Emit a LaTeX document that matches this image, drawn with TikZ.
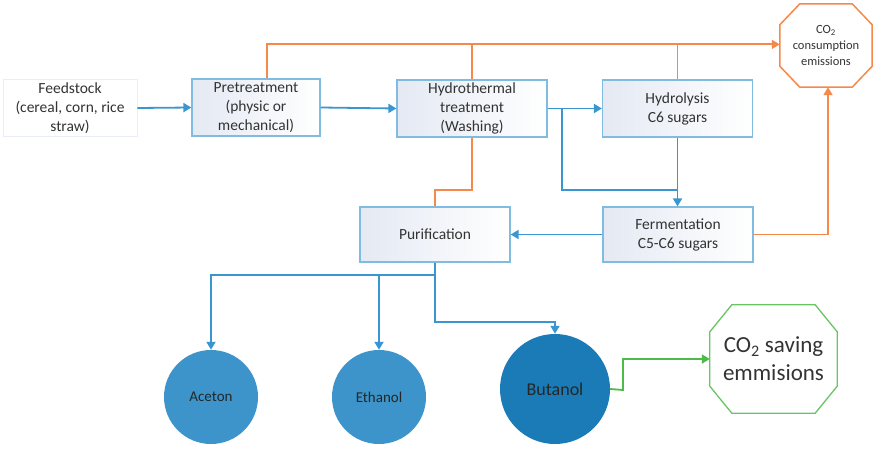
\documentclass[tikz,border=0pt]{standalone}
\usepackage{fontspec}
\setmainfont{Carlito}
\usetikzlibrary{arrows.meta,calc,shapes.geometric}
\definecolor{boxblue}{HTML}{7FBCE0}
\definecolor{lineblue}{HTML}{3A96D0}
\definecolor{lineorange}{HTML}{F5894A}
\definecolor{linegreen}{HTML}{4DBB47}
\definecolor{shadeblue}{HTML}{E4E9F3}
\definecolor{txtgray}{HTML}{333333}
\definecolor{circblue}{HTML}{3C94CA}
\definecolor{butblue}{HTML}{1B7BB7}
\newcommand{\myoct}[3]{($(#1.north west)+(#2,0)$) -- ($(#1.north east)+(-#2,0)$) -- ($(#1.north east)+(0,#3)$) -- ($(#1.south east)+(0,-#3)$) -- ($(#1.south east)+(-#2,0)$) -- ($(#1.south west)+(#2,0)$) -- ($(#1.south west)+(0,-#3)$) -- ($(#1.north west)+(0,#3)$) -- cycle}
\tikzset{
  procbox/.style={draw=boxblue, line width=1.2pt, left color=shadeblue, right color=white,
    minimum width=150pt, minimum height=57pt, inner sep=0pt, align=center,
    font=\fontsize{15.5}{19}\selectfont, text=txtgray},
  prodcirc/.style={circle, fill=circblue, minimum size=94pt, inner sep=0pt,
    font=\fontsize{15}{18}\selectfont, text=black!85},
  octbox/.style={rectangle, inner sep=0pt, align=center},
  bline/.style={draw=lineblue, line width=1.8pt},
  oline/.style={draw=lineorange, line width=1.8pt},
  gline/.style={draw=linegreen, line width=1.8pt},
  tip/.style={-{Triangle[length=8pt,width=9pt]}}
}
\begin{document}
\begin{tikzpicture}[x=1pt,y=-1pt]
\useasboundingbox (0,0) rectangle (874,449);
% boxes
\node[procbox, draw=shadeblue!80, line width=0.8pt, left color=white, minimum width=134pt] (feed) at (70,108) {Feedstock\\(cereal, corn, rice\\straw)};
\node[procbox, minimum width=128pt] (pre) at (256,107.5) {Pretreatment\\(physic or\\mechanical)};
\node[procbox] (hyd) at (472,108.5) {Hydrothermal\\treatment\\(Washing)};
\node[procbox] (hyl) at (677.5,108.5) {Hydrolysis\\C6 sugars};
\node[procbox, minimum height=55pt] (pur) at (435,234.5) {Purification};
\node[procbox, minimum height=55pt] (fer) at (678,234.5) {Fermentation\\C5-C6 sugars};
% octagons
\node[octbox, minimum width=92pt, minimum height=83pt, font=\fontsize{12.5}{16}\selectfont, text=txtgray] (co2) at (826,45.5) {CO\textsubscript{2}\\consumption\\emissions};
\draw[draw=lineorange, line width=1.5pt] \myoct{co2}{20}{21};
\node[octbox, minimum width=127pt, minimum height=108pt, font=\fontsize{23}{28}\selectfont, text=txtgray] (co2s) at (773.5,359) {CO\textsubscript{2} saving\\emmisions};
\draw[draw=linegreen!85, line width=1.3pt] \myoct{co2s}{22}{27};
% circles
\node[prodcirc] (ace) at (211,397) {Aceton};
\node[prodcirc] (eth) at (379,397) {Ethanol};
\node[prodcirc, fill=butblue, minimum size=110pt, font=\fontsize{18}{21}\selectfont] (but) at (555,389) {Butanol};
% coordinates
\coordinate (br1) at ($(hyd.east)+(14,0)$);
\coordinate (br2) at (678,190);
\coordinate (top1) at ($(pre.north)+(11,-34)$);
\coordinate (mid1) at (472,190);
\coordinate (pd1) at (435,275);
\coordinate (pd2) at (435,322);
\coordinate (eb) at (379,275);
\coordinate (gr) at (623,390);
% blue connectors
\draw[bline, tip] (feed.east) -- (pre.west);
\draw[bline, tip] (pre.east) -- (hyd.west);
\draw[bline, tip] (hyd.east) -- (hyl.west);
\draw[bline] (br1) |- (br2);
\draw[bline, tip] (hyl.south) -- (hyl.south |- fer.north);
\draw[bline, tip] (fer.west) -- (pur.east);
\draw[bline, tip] (pur.south) -- (pd1) -| (ace.north);
\draw[bline, tip] (eb) -- (eth.north);
\draw[bline, tip] (pd1) -- (pd2) -| (but.north);
% orange connectors
\draw[oline, tip] ($(pre.north)+(11,0)$) -- (top1) -- (top1 -| co2.west);
\draw[oline] (hyd.north) -- (hyd.north |- top1);
\draw[oline] (hyl.north) -- (hyl.north |- top1);
\draw[oline] (hyd.south) -- (mid1) -| (pur.north);
\draw[oline, tip] (fer.east) -| ($(co2.south)+(2,0)$);
% green connector
\draw[gline, tip] (but.east) -- (gr) |- (co2s.west);
\end{tikzpicture}
\end{document}
